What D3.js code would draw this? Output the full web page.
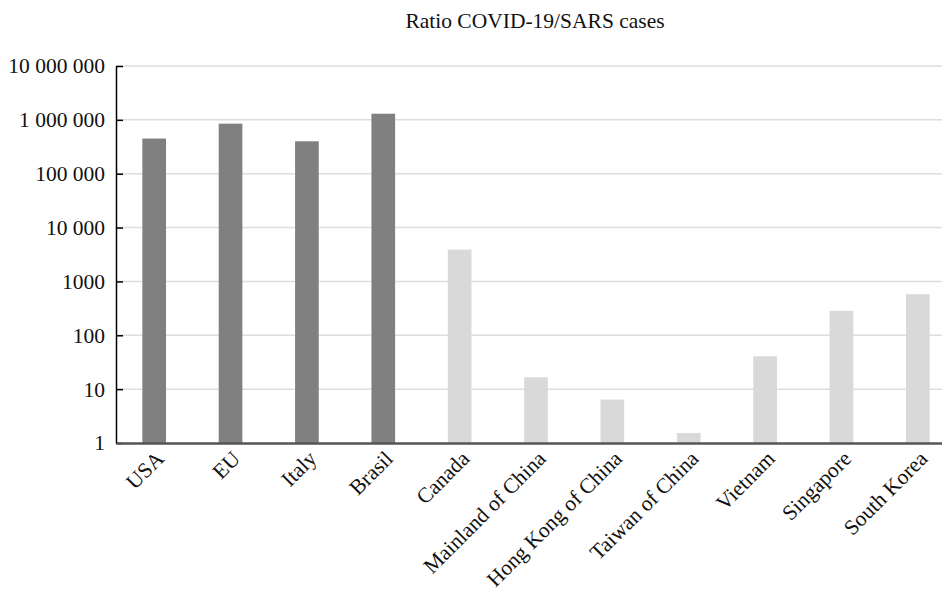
<!DOCTYPE html>
<html>
<head>
<meta charset="utf-8">
<script src="https://cdn.jsdelivr.net/npm/d3@7"></script>
<style>
  body { margin: 0; background: #fff; }
  svg { display: block; font-family: "Liberation Serif", "Times New Roman", serif; }
</style>
</head>
<body>
<div id="chart"></div>
<script>
// data
const countries = ["USA", "EU", "Italy", "Brasil", "Canada", "Mainland of China",
  "Hong Kong of China", "Taiwan of China", "Vietnam", "Singapore", "South Korea"];
const ratios = [450000, 850000, 400000, 1300000, 3900, 16.6, 6.4, 1.53, 40.7, 284, 578];
const groups = ["covid", "covid", "covid", "covid", "sars", "sars", "sars", "sars", "sars", "sars", "sars"];
const yTicks = [1, 10, 100, 1000, 10000, 100000, 1000000, 10000000];
const title = "Ratio COVID-19/SARS cases";

const width = 942, height = 589;
const margin = { top: 66, left: 116, bottom: 146 };
const plotRight = 956; // plot runs past the window edge in the reference

const svg = d3.select("#chart").append("svg")
  .attr("width", width)
  .attr("height", height);

const x = d3.scaleBand()
  .domain(countries)
  .range([margin.left, plotRight])
  .paddingInner(0.69)
  .paddingOuter(0.345);

const y = d3.scaleLog()
  .domain([1, 10000000])
  .range([height - margin.bottom, margin.top]);

const fmt = function (v) {
  if (v >= 10000) return d3.format(",")(v).replace(/,/g, " ");
  return String(v);
};

// gridlines
svg.append("g")
  .selectAll("line")
  .data(yTicks.slice(1))
  .enter().append("line")
  .attr("x1", margin.left)
  .attr("x2", plotRight)
  .attr("y1", d => y(d))
  .attr("y2", d => y(d))
  .attr("stroke", "#dedede")
  .attr("stroke-width", 1.5);

// bars
svg.append("g")
  .selectAll("rect")
  .data(countries)
  .enter().append("rect")
  .attr("x", d => x(d))
  .attr("width", x.bandwidth())
  .attr("y", (d, i) => y(ratios[i]))
  .attr("height", (d, i) => y(1) - y(ratios[i]))
  .attr("fill", (d, i) => groups[i] === "covid" ? "#808080" : "#d9d9d9");

// y axis
const yAxis = d3.axisLeft(y)
  .tickValues(yTicks)
  .tickFormat(fmt)
  .tickSizeInner(-7)
  .tickSizeOuter(0)
  .tickPadding(11);

const gy = svg.append("g")
  .attr("transform", "translate(" + margin.left + ",0)")
  .attr("font-family", null)
  .call(yAxis);
gy.select(".domain").attr("stroke", "#000").attr("stroke-width", 1.5);
gy.selectAll(".tick line").attr("stroke", "#000").attr("stroke-width", 1.5);
gy.attr("font-family", "Liberation Serif, serif");
gy.selectAll("text")
  .attr("font-size", 21.5)
  .attr("fill", "#111");

// x axis
const xAxis = d3.axisBottom(x).tickSize(0).tickPadding(0);
const gx = svg.append("g")
  .attr("transform", "translate(0," + y(1) + ")")
  .call(xAxis);
gx.attr("font-family", "Liberation Serif, serif");
gx.select(".domain").attr("stroke", "#555").attr("stroke-width", 2.5);
gx.selectAll("text")
  .attr("font-size", 21.5)
  .attr("fill", "#111")
  .attr("text-anchor", "end")
  .attr("dy", null)
  .attr("y", null)
  .attr("transform", "translate(11,17) rotate(-45)");

// title
svg.append("text")
  .attr("x", 535)
  .attr("y", 28)
  .attr("text-anchor", "middle")
  .attr("font-size", 21.5)
  .attr("fill", "#111")
  .text(title);
</script>
</body>
</html>
